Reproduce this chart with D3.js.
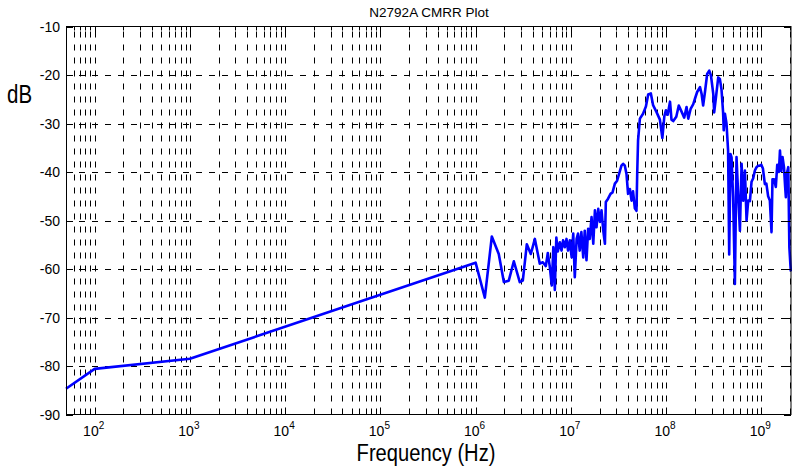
<!DOCTYPE html>
<html>
<head>
	<meta charset='utf-8'>
	<title>N2792A CMRR Plot</title>
	<script src='https://cdn.jsdelivr.net/npm/d3@7'></script>
	<style>
		body { margin: 0; background: #fff; }
		text { font-family: 'Liberation Sans', Arial, sans-serif; fill: #000; }
	</style>
</head>
<body>
	<svg width='792' height='469'></svg>
	<script>

		// frequency points (Hz) and CMRR (dB)
		const freqHz = [50, 100, 1000, 1.0e6, 1.25e6, 1.48e6, 1.75e6, 1.98e6, 2.23e6, 2.52e6,
			2.91e6, 3.13e6, 3.45e6, 3.80e6, 4.19e6, 4.72e6, 5.08e6, 5.46e6, 5.73e6, 6.01e6,
			6.31e6, 6.55e6, 6.79e6, 7.04e6, 7.30e6, 7.66e6, 7.98e6, 8.29e6, 8.64e6, 9.0e6,
			9.35e6, 9.75e6, 1.02e7, 1.06e7, 1.10e7, 1.15e7, 1.19e7, 1.24e7, 1.29e7, 1.35e7,
			1.40e7, 1.46e7, 1.52e7, 1.58e7, 1.65e7, 1.72e7, 1.79e7, 1.86e7, 1.94e7, 2.02e7,
			2.10e7, 2.19e7, 2.28e7, 2.33e7, 2.46e7, 2.61e7, 2.74e7, 2.90e7, 3.06e7, 3.21e7,
			3.40e7, 3.54e7, 3.69e7, 3.84e7, 3.99e7, 4.17e7, 4.34e7, 4.50e7, 4.70e7, 4.89e7,
			4.98e7, 5.08e7, 5.31e7, 5.73e7, 6.14e7, 6.49e7, 6.92e7, 7.30e7, 7.92e7, 8.61e7,
			9.14e7, 9.59e7, 9.95e7, 1.04e8, 1.10e8, 1.14e8, 1.19e8, 1.28e8, 1.36e8, 1.45e8,
			1.55e8, 1.64e8, 1.71e8, 1.81e8, 1.93e8, 2.01e8, 2.12e8, 2.27e8, 2.36e8, 2.45e8,
			2.56e8, 2.70e8, 2.84e8, 2.96e8, 3.13e8, 3.20e8, 3.34e8, 3.53e8, 3.67e8, 3.82e8,
			3.97e8, 4.03e8, 4.15e8, 4.31e8, 4.48e8, 4.60e8, 4.75e8, 4.87e8, 5.06e8, 5.28e8,
			5.49e8, 5.71e8, 5.96e8, 6.21e8, 6.46e8, 6.73e8, 7.00e8, 7.29e8, 7.59e8, 7.90e8,
			8.22e8, 8.56e8, 8.91e8, 9.26e8, 9.65e8, 1.00e9, 1.04e9, 1.09e9, 1.13e9, 1.18e9,
			1.23e9, 1.28e9, 1.31e9, 1.36e9, 1.42e9, 1.47e9, 1.53e9, 1.57e9, 1.62e9, 1.67e9,
			1.73e9, 1.78e9, 1.81e9, 1.85e9, 1.92e9, 1.97e9, 2.04e9]

		const cmrrDb = [-84.7, -80.6, -78.5, -58.7, -65.9, -53.3, -56.9, -62.7, -62.4, -58.4,
			-62.7, -62.4, -54.9, -56.9, -53.8, -58.9, -58.6, -59.4, -56.7, -59.5,
			-63.4, -55.5, -64.3, -53.5, -56.4, -54.5, -56.2, -54.1, -55.5, -53.8,
			-56.2, -54.1, -57.6, -52.7, -61.7, -53.8, -52.7, -56.2, -52.4, -57.6,
			-52.1, -58.2, -51.7, -53.8, -49.3, -54.8, -47.9, -51.4, -47.6, -50.3,
			-47.9, -52.1, -54.8, -46.2, -45.5, -44.5, -44.2, -42.4, -41.8, -40.4,
			-38.7, -38.3, -38.7, -40.4, -44.5, -43.5, -45.9, -44.0, -47.5, -48.0,
			-40.0, -33.5, -29.0, -28.0, -26.5, -24.0, -23.8, -26.2, -27.6, -29.2,
			-33.0, -28.5, -27.3, -28.2, -25.5, -29.2, -29.5, -28.6, -26.3, -27.5,
			-28.8, -26.6, -29.0, -27.0, -26.0, -24.9, -23.5, -22.5, -23.9, -26.3,
			-23.5, -19.8, -19.1, -20.1, -23.9, -27.7, -24.6, -20.5, -20.8, -23.0,
			-27.7, -31.4, -28.0, -30.0, -35.6, -57.0, -36.3, -37.0, -45.2, -63.1,
			-36.9, -44.5, -52.1, -38.3, -45.9, -39.7, -50.0, -45.9, -46.0, -42.0,
			-41.3, -39.7, -39.0, -38.7, -38.7, -38.5, -39.3, -42.5, -42.4, -45.0,
			-45.9, -52.4, -41.5, -41.5, -43.1, -38.5, -40.0, -35.6, -39.8, -36.9,
			-39.0, -43.1, -45.2, -40.4, -39.0, -55.5, -60.5]

		const yTicks = [-90, -80, -70, -60, -50, -40, -30, -20, -10]
		const xDecades = [2, 3, 4, 5, 6, 7, 8, 9]   // 10^2 ... 10^9
		const minorSteps = [2, 3, 4, 5, 6, 7, 8, 9]

		const margin = { top: 26.5, left: 66, right: 791, bottom: 414.5 }

		const xScale = d3.scaleLog().domain([50, 2.05e9]).range([margin.left, margin.right])
		const yScale = d3.scaleLinear().domain([-90, -10]).range([margin.bottom, margin.top])

		const svg = d3.select('svg')

		// all tick positions on the log axis (major and minor)
		const xAll = []
		for (let k = 1; k <= 9; k++) {
			xAll.push(Math.pow(10, k))
			minorSteps.forEach(m => xAll.push(m * Math.pow(10, k)))
		}
		const xInside = xAll.filter(v => v >= 50 && v <= 2.05e9)
		const xMajor = xDecades.map(k => Math.pow(10, k))
		const crisp = v => Math.round(v) + 0.5

		//网格
		const grid = svg.append('g')
			.attr('stroke', '#000').attr('stroke-width', 1).attr('stroke-dasharray', '6,7')
		grid.selectAll('.vg').data(xInside).enter().append('line')
			.attr('x1', d => crisp(xScale(d))).attr('x2', d => crisp(xScale(d)))
			.attr('y1', margin.bottom).attr('y2', margin.top)
		grid.selectAll('.hg').data(yTicks.slice(1, -1)).enter().append('line')
			.attr('x1', margin.left).attr('x2', margin.right)
			.attr('y1', d => crisp(yScale(d))).attr('y2', d => crisp(yScale(d)))

		//曲线
		const line = d3.line().x((d, i) => xScale(freqHz[i])).y(d => yScale(d))
		svg.append('path')
			.attr('d', line(cmrrDb))
			.attr('fill', 'none')
			.attr('stroke', '#0000ff')
			.attr('stroke-width', 2.6)
			.attr('stroke-linejoin', 'round')

		//坐标轴框和刻度
		const ax = svg.append('g').attr('stroke', '#000').attr('stroke-width', 1)
		ax.append('rect')
			.attr('x', margin.left + 0.5).attr('y', margin.top)
			.attr('width', margin.right - margin.left - 0.5).attr('height', margin.bottom - margin.top)
			.attr('fill', 'none')
		xInside.forEach(v => {
			const len = xMajor.includes(v) ? 7 : 4
			const x = crisp(xScale(v))
			ax.append('line').attr('x1', x).attr('x2', x).attr('y1', margin.bottom).attr('y2', margin.bottom - len)
			ax.append('line').attr('x1', x).attr('x2', x).attr('y1', margin.top).attr('y2', margin.top + len)
		})
		yTicks.forEach(v => {
			const y = crisp(yScale(v))
			ax.append('line').attr('x1', margin.left).attr('x2', margin.left + 7).attr('y1', y).attr('y2', y)
			ax.append('line').attr('x1', margin.right).attr('x2', margin.right - 7).attr('y1', y).attr('y2', y)
		})

		//刻度文字
		svg.selectAll('.ylab').data(yTicks).enter().append('text')
			.attr('x', 60).attr('y', d => yScale(d) + 5)
			.attr('text-anchor', 'end').attr('font-size', 14)
			.text(d => d)

		const xl = svg.selectAll('.xlab').data(xDecades).enter().append('text')
			.attr('x', d => xScale(Math.pow(10, d)) - 1).attr('y', 436)
			.attr('text-anchor', 'middle').attr('font-size', 14)
		xl.append('tspan').text('10')
		xl.append('tspan').attr('dy', -7).attr('font-size', 10).text(d => d)

		//标题和轴名（窄体字用水平压缩代替）
		svg.append('text').attr('x', 429).attr('y', 17).attr('text-anchor', 'middle')
			.attr('font-size', 13.5).text('N2792A CMRR Plot')
		svg.append('text').attr('transform', 'translate(426,461) scale(0.84,1)')
			.attr('text-anchor', 'middle').attr('font-size', 24).text('Frequency (Hz)')
		svg.append('text').attr('transform', 'translate(7,103) scale(0.82,1)')
			.attr('font-size', 25).text('dB')

	</script>
</body>
</html>
